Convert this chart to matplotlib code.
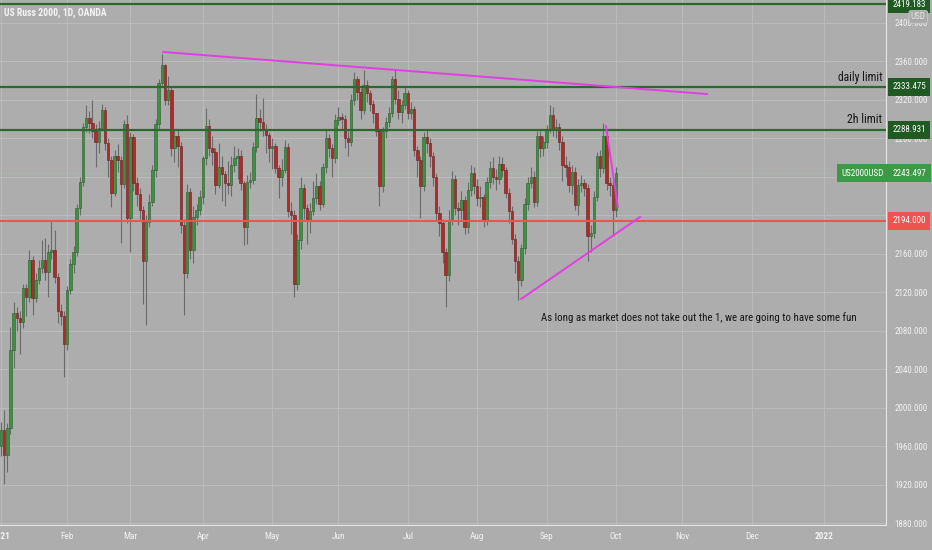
import matplotlib
matplotlib.use("Agg")
import matplotlib.pyplot as plt
import matplotlib.transforms as mtransforms

# daily candles, US2000USD, 1 Jan 2021 .. 1 Oct 2021 (weekday bars)
first_open = 1960
closes = [1977, 1951, 1979, 2060, 2098, 2093, 2089, 2124, 2115, 2153,
          2114, 2133, 2145, 2153, 2141, 2162, 2164, 2136, 2100, 2095,
          2066, 2122, 2149, 2162, 2207, 2235, 2292, 2301, 2296, 2287,
          2276, 2291, 2309, 2275, 2257, 2223, 2262, 2257, 2232, 2295,
          2197, 2281, 2233, 2222, 2205, 2152, 2193, 2214, 2247, 2295,
          2337, 2356, 2320, 2330, 2270, 2282, 2272, 2190, 2140, 2224,
          2164, 2198, 2205, 2219, 2259, 2293, 2270, 2266, 2231, 2250,
          2243, 2233, 2231, 2252, 2259, 2262, 2233, 2188, 2235, 2237,
          2271, 2301, 2297, 2290, 2283, 2270, 2272, 2249, 2240, 2247,
          2271, 2204, 2200, 2129, 2174, 2228, 2207, 2195, 2204, 2218,
          2230, 2212, 2250, 2280, 2270, 2259, 2299, 2302, 2300, 2280,
          2276, 2320, 2341, 2328, 2309, 2335, 2327, 2316, 2306, 2288,
          2230, 2288, 2297, 2306, 2341, 2321, 2307, 2314, 2327, 2306,
          2310, 2268, 2257, 2230, 2281, 2275, 2262, 2240, 2202, 2192,
          2162, 2138, 2195, 2238, 2207, 2205, 2216, 2188, 2226, 2244,
          2230, 2218, 2219, 2195, 2235, 2249, 2240, 2238, 2253, 2247,
          2223, 2204, 2175, 2152, 2133, 2166, 2212, 2233, 2240, 2214,
          2282, 2270, 2276, 2289, 2304, 2289, 2292, 2276, 2252, 2250,
          2231, 2245, 2211, 2231, 2233, 2228, 2178, 2181, 2219, 2261,
          2249, 2282, 2233, 2231, 2205, 2243.497]
highs = [1985, 1998, 1984, 2084, 2110, 2105, 2100, 2129, 2128, 2164,
         2158, 2140, 2153, 2174, 2176, 2170, 2195, 2185, 2140, 2108,
         2100, 2126, 2155, 2168, 2212, 2240, 2296, 2314, 2308, 2320,
         2295, 2298, 2316, 2312, 2280, 2262, 2268, 2274, 2262, 2299,
         2304, 2286, 2284, 2240, 2228, 2210, 2200, 2222, 2252, 2300,
         2341, 2368, 2357, 2345, 2334, 2290, 2290, 2276, 2196, 2232,
         2228, 2210, 2212, 2226, 2262, 2311, 2300, 2282, 2270, 2275,
         2262, 2246, 2256, 2262, 2272, 2270, 2268, 2236, 2242, 2245,
         2276, 2326, 2310, 2322, 2295, 2286, 2280, 2275, 2252, 2258,
         2278, 2275, 2214, 2205, 2180, 2240, 2232, 2212, 2213, 2236,
         2244, 2236, 2254, 2290, 2284, 2274, 2305, 2312, 2306, 2304,
         2288, 2326, 2349, 2345, 2332, 2351, 2340, 2330, 2320, 2306,
         2290, 2292, 2302, 2312, 2345, 2351, 2330, 2320, 2334, 2330,
         2318, 2313, 2272, 2262, 2286, 2290, 2280, 2266, 2244, 2210,
         2196, 2166, 2205, 2246, 2242, 2214, 2225, 2220, 2234, 2252,
         2250, 2238, 2230, 2222, 2240, 2256, 2260, 2248, 2262, 2260,
         2250, 2228, 2210, 2180, 2158, 2170, 2218, 2240, 2250, 2246,
         2287, 2288, 2282, 2294, 2314, 2312, 2300, 2296, 2282, 2262,
         2256, 2252, 2250, 2238, 2242, 2238, 2232, 2190, 2225, 2266,
         2268, 2296, 2288, 2240, 2236, 2250]
lows = [1950, 1921, 1933, 1973, 2041, 2080, 2056, 2083, 2095, 2110,
        2096, 2110, 2128, 2140, 2133, 2115, 2155, 2130, 2088, 2086,
        2032, 2060, 2118, 2140, 2158, 2200, 2230, 2286, 2285, 2280,
        2250, 2265, 2288, 2268, 2240, 2209, 2220, 2245, 2171, 2228,
        2192, 2162, 2225, 2210, 2196, 2108, 2086, 2188, 2210, 2240,
        2290, 2334, 2314, 2315, 2262, 2255, 2250, 2182, 2096, 2135,
        2155, 2150, 2190, 2200, 2212, 2252, 2262, 2252, 2222, 2228,
        2215, 2210, 2222, 2220, 2245, 2238, 2226, 2169, 2170, 2228,
        2232, 2266, 2288, 2282, 2265, 2255, 2248, 2244, 2218, 2230,
        2244, 2198, 2180, 2115, 2122, 2165, 2196, 2170, 2182, 2200,
        2212, 2205, 2208, 2244, 2260, 2240, 2254, 2294, 2290, 2270,
        2262, 2272, 2315, 2320, 2300, 2305, 2318, 2308, 2296, 2282,
        2210, 2224, 2280, 2292, 2302, 2316, 2300, 2296, 2310, 2300,
        2300, 2262, 2240, 2197, 2225, 2265, 2250, 2230, 2195, 2178,
        2150, 2105, 2132, 2190, 2200, 2190, 2196, 2180, 2182, 2220,
        2222, 2210, 2208, 2188, 2190, 2228, 2232, 2226, 2232, 2240,
        2218, 2192, 2170, 2140, 2112, 2126, 2160, 2205, 2228, 2208,
        2210, 2260, 2262, 2270, 2285, 2282, 2280, 2268, 2236, 2240,
        2224, 2222, 2205, 2200, 2224, 2220, 2152, 2162, 2176, 2215,
        2240, 2244, 2226, 2220, 2178, 2198]
opens = [first_open] + closes[:-1]

# drawn levels
level_top = 2419.183
daily_limit = 2333.475
h2_limit = 2288.931
support = 2194.000
last_price = closes[-1]

# trendlines (bar index, price)
upper_trend = ([51.4, 223.8], [2369.6, 2325.9])
lower_trend = ([164.9, 202.6], [2112.9, 2198.1])
short_trend = ([191.8, 195.6], [2292.5, 2208.4])

month_pos = [0, 21, 41, 64, 86, 107, 129, 151, 173, 195, 216, 238, 261]
month_labels = ["2021", "Feb", "Mar", "Apr", "May", "Jun", "Jul", "Aug",
                "Sep", "Oct", "Nov", "Dec", "2022"]
price_ticks = list(range(1880, 2401, 40))

note = "As long as market does not take out the 1, we are going to have some fun"

bg = "#adadad"
grid_c = "#bbbbbb"
up_c = "#3f9142"
down_c = "#b02a2a"
lvl_green = "#2a6a2d"
narrow = ["Roboto Condensed", "Liberation Sans Narrow", "Liberation Sans"]

fig = plt.figure(figsize=(9.32, 5.5), dpi=100)
fig.patch.set_facecolor(bg)
ax = fig.add_axes([0, 25 / 550, 886 / 932, 525 / 550])
ax.set_facecolor(bg)
renderer = fig.canvas.get_renderer()


def fit_width(txt, px):
    # scale the font so the text spans about px pixels
    w = txt.get_window_extent(renderer).width
    txt.set_fontsize(txt.get_fontsize() * px / w)
    return txt.get_fontsize()


ax.set_xlim(-0.32, 280.6)
ax.set_ylim(1878.1, 2423.6)

ax.set_xticks(month_pos)
ax.set_xticklabels(month_labels)
ax.set_yticks(price_ticks)
ax.set_yticklabels(["%.3f" % p for p in price_ticks])
ax.yaxis.tick_right()
ax.grid(True, color=grid_c, lw=0.8)
ax.set_axisbelow(True)
ax.tick_params(axis="both", length=0, colors="#f2f2f2", labelsize=7.5)
ax.tick_params(axis="y", pad=6)
ax.tick_params(axis="x", pad=5)
for side in ["top", "left"]:
    ax.spines[side].set_visible(False)
ax.spines["right"].set_color("#e6e6e6")
ax.spines["bottom"].set_color("#e6e6e6")

# candles
idx = list(range(len(closes)))
cols = [up_c if c >= o else down_c for o, c in zip(opens, closes)]
ax.vlines(idx, lows, highs, color="#6a6a6a", lw=0.8, zorder=2)
bottoms = [min(o, c) for o, c in zip(opens, closes)]
heights = [max(abs(c - o), 1.0) for o, c in zip(opens, closes)]
edge = ["#2b5e2d" if c == up_c else "#6e1c1c" for c in cols]
ax.bar(idx, heights, bottom=bottoms, width=0.78, color=cols,
       edgecolor=edge, linewidth=0.4, zorder=3)

# horizontal levels
for lv in [level_top, daily_limit, h2_limit]:
    ax.axhline(lv, color=lvl_green, lw=1.6, zorder=4)
ax.axhline(support, color="#ef5350", lw=1.5, zorder=4)
ax.axhline(last_price, color="#9fc9a2", lw=0.7, ls=(0, (1, 2)), zorder=1)

# trendlines
for xs, ys in [upper_trend, lower_trend, short_trend]:
    ax.plot(xs, ys, color="#e33ee3", lw=1.4, zorder=5)

tr = mtransforms.blended_transform_factory(ax.transAxes, ax.transData)

# texts
t = ax.text(0.005, 0.975, "US Russ 2000, 1D, OANDA", transform=ax.transAxes,
            color="#f4f4f4", fontsize=8, fontweight="bold", family=narrow,
            va="center", ha="left")
fit_width(t, 103)
t = ax.text(0.996, daily_limit + 10, "daily limit", transform=tr,
            ha="right", va="center", fontsize=8, color="#151515", family=narrow)
fit_width(t, 44)
t = ax.text(0.996, h2_limit + 10, "2h limit", transform=tr,
            ha="right", va="center", fontsize=8, color="#151515", family=narrow)
fit_width(t, 35)
t = ax.text(171.3, 2094, note, ha="left", va="center", fontsize=8.5,
            color="#151515", family=narrow)
fit_width(t, 312)

# axis labels in the narrow face, sized to the reference widths
for lab in ax.get_xticklabels() + ax.get_yticklabels():
    lab.set_family(narrow)
ysize = fit_width(ax.get_yticklabels()[5], 34)
for lab in ax.get_yticklabels():
    lab.set_fontsize(ysize)
xsize = fit_width(ax.get_xticklabels()[1], 13)
for lab in ax.get_xticklabels():
    lab.set_fontsize(xsize)
    if lab.get_text() in ("2021", "2022"):
        lab.set_fontweight("bold")

# price badges on the axis
badges = [(level_top, "%.3f" % level_top, "#1f5a23"),
          (daily_limit, "%.3f" % daily_limit, "#1f5a23"),
          (h2_limit, "%.3f" % h2_limit, "#1f5a23"),
          (last_price, "%.3f" % last_price, "#3c9a47"),
          (support, "%.3f" % support, "#ef5350")]
for val, txt, fc in badges:
    ax.text(1.007, val, txt, transform=tr, ha="left", va="center",
            fontsize=ysize, color="white", family=narrow, clip_on=False, zorder=10,
            bbox=dict(boxstyle="square,pad=0.5", fc=fc, ec="none"))
t = ax.text(0.997, last_price, "US2000USD", transform=tr, ha="right", va="center",
            fontsize=ysize, color="white", family=narrow, zorder=10,
            bbox=dict(boxstyle="square,pad=0.5", fc="#3c9a47", ec="none"))
ax.text(1.028, 2406, "USD", transform=tr, ha="left", va="center",
        fontsize=ysize, color="#e8e8e8", family=narrow, clip_on=False, zorder=11,
        bbox=dict(boxstyle="round,pad=0.2", fc="#a9a9a9", ec="#c8c8c8", lw=0.6))

fig.savefig("out.png", dpi=100, facecolor=bg)
